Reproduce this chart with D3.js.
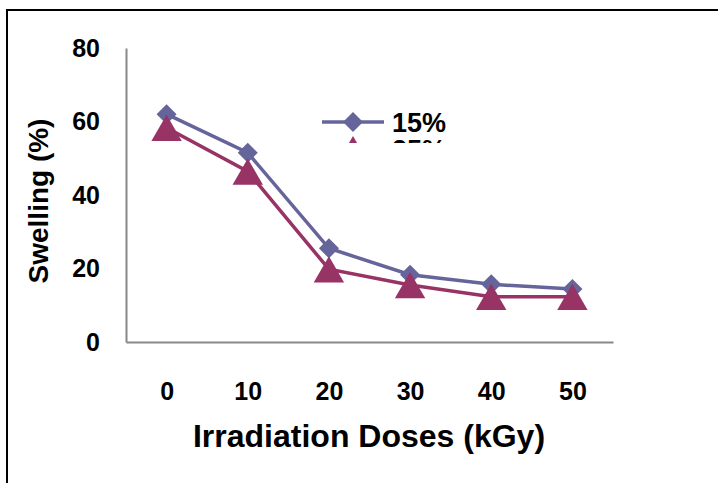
<!DOCTYPE html>
<html><head><meta charset="utf-8">
<script src="https://cdn.jsdelivr.net/npm/d3@7"></script>
<style>body{margin:0;background:#fff;} svg{display:block;}</style>
</head><body>
<svg id="c" width="718" height="483"></svg>
<script>
const categories = ["0","10","20","30","40","50"];
const series15 = [62, 51.5, 25.5, 18.3, 15.7, 14.4];
const series25 = [58.3, 46.4, 19.8, 15.5, 12.3, 12.3];
const yTicks = [0, 20, 40, 60, 80];
const seriesNames = ["15%", "25%"];

const svg = d3.select("#c");
const font = "'Liberation Sans', Arial, sans-serif";
// outer frame
svg.append("rect").attr("x",7).attr("y",10).attr("width",740).attr("height",500)
  .attr("fill","none").attr("stroke","#000").attr("stroke-width",2);

const x0 = 126, x1 = 613, yTop = 48, yBot = 342;
const x = d3.scalePoint().domain(categories).range([x0, x1]).padding(0.5);
const y = d3.scaleLinear().domain([0, 80]).range([yBot, yTop]);

// axes
const yAxis = d3.axisLeft(y).tickValues(yTicks).tickSize(0).tickPadding(26);
const gy = svg.append("g").attr("transform",`translate(${x0},0)`).call(yAxis);
gy.select(".domain").attr("stroke","#888").attr("stroke-width",2);
gy.selectAll("text").attr("font-family",font).attr("font-weight","bold").attr("font-size",25).attr("fill","#000");

const xAxis = d3.axisBottom(x).tickSize(0).tickPadding(40);
const gx = svg.append("g").attr("transform",`translate(0,${yBot})`).call(xAxis);
gx.select(".domain").attr("stroke","#888").attr("stroke-width",2);
gx.selectAll("text").attr("font-family",font).attr("font-weight","bold").attr("font-size",25).attr("fill","#000");

// titles
svg.append("text").attr("x",369).attr("y",447).attr("text-anchor","middle")
  .attr("font-family",font).attr("font-weight","bold").attr("font-size",32).text("Irradiation Doses (kGy)");
svg.append("text").attr("transform","translate(48,201) rotate(-90)").attr("text-anchor","middle")
  .attr("font-family",font).attr("font-weight","bold").attr("font-size",28).text("Swelling (%)");

const c15 = "#65649b", c25 = "#983365";
const line = d3.line().x((d,i)=>x(categories[i])).y(d=>y(d));
const sq = d3.symbol().type(d3.symbolSquare).size(200);
const tri = d3.symbol().type(d3.symbolTriangle).size(400);

svg.append("path").datum(series15).attr("d",line).attr("fill","none").attr("stroke",c15).attr("stroke-width",3.5);
svg.append("path").datum(series25).attr("d",line).attr("fill","none").attr("stroke",c25).attr("stroke-width",3.5);

svg.selectAll(".m15").data(series15).join("path").attr("class","m15")
  .attr("d", sq)
  .attr("transform",(d,i)=>`translate(${x(categories[i])},${y(d)}) rotate(45)`)
  .attr("fill",c15);
svg.selectAll(".m25").data(series25).join("path").attr("class","m25")
  .attr("d", tri)
  .attr("transform",(d,i)=>`translate(${x(categories[i])},${y(d)+4.5})`)
  .attr("fill",c25);

// legend (clipped like the original)
svg.append("clipPath").attr("id","lc").append("rect").attr("x",300).attr("y",100).attr("width",200).attr("height",43);
const lg = svg.append("g").attr("clip-path","url(#lc)");
const items = [{n:seriesNames[0], c:c15, m:"d"},{n:seriesNames[1], c:c25, m:"t"}];
items.forEach((it,i)=>{
  const ly = 122 + i*27;
  lg.append("line").attr("x1",322).attr("x2",384).attr("y1",ly).attr("y2",ly).attr("stroke",it.c).attr("stroke-width",3.5);
  if (it.m==="d") {
    lg.append("path").attr("d",sq).attr("transform",`translate(353,${ly}) rotate(45)`).attr("fill",it.c);
  } else {
    lg.append("path").attr("d",tri).attr("transform",`translate(353,${ly+4.5})`).attr("fill",it.c);
  }
  lg.append("text").attr("x",392).attr("y",ly+10).attr("font-family",font).attr("font-weight","bold").attr("font-size",27).text(it.n);
});
</script>
</body></html>
